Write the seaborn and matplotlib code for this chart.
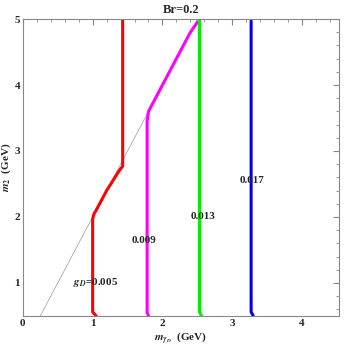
import numpy as np
import pandas as pd
import matplotlib
matplotlib.use("Agg")
import matplotlib.pyplot as plt
import seaborn as sns
from matplotlib.ticker import MultipleLocator

# contour curves (m_gammaD, m2)
red_x = [1.05, 1.00, 1.00, 1.02, 1.05, 1.10, 1.15, 1.20, 1.26, 1.32, 1.38, 1.43, 1.43]
red_y = [0.50, 0.56, 1.97, 2.05, 2.10, 2.20, 2.30, 2.40, 2.50, 2.60, 2.70, 2.77, 4.97]
mag_x = [1.80, 1.78, 1.78, 1.80, 1.90, 2.00, 2.10, 2.20, 2.30, 2.40, 2.50, 2.53]
mag_y = [0.50, 0.55, 3.45, 3.60, 3.80, 4.00, 4.20, 4.40, 4.60, 4.80, 4.95, 4.97]
grn_x = [2.56, 2.53, 2.53]
grn_y = [0.50, 0.56, 4.97]
blu_x = [3.30, 3.27, 3.27]
blu_y = [0.50, 0.56, 4.97]
diag_x = [0.25, 2.5]
diag_y = [0.50, 5.0]

labels = ["$g_D$=0.005", "0.009", "0.013", "0.017"]
label_x = [1.04, 1.73, 2.58, 3.28]
label_y = [1.00, 1.64, 2.00, 2.55]
colors = ["#ff0000", "#ff00ff", "#00ee00", "#0000ee"]

sns.set_style("white")
plt.rcParams["font.family"] = ["Liberation Serif", "DejaVu Serif"]
plt.rcParams["mathtext.fontset"] = "stix"
plt.rcParams["font.weight"] = "bold"

fig = plt.figure(figsize=(3.46, 3.46), dpi=100)
ax = fig.add_axes([0.066, 0.087, 0.914, 0.858])

sns.lineplot(x=diag_x, y=diag_y, color="#999999", lw=0.5, sort=False,
             estimator=None, errorbar=None, ax=ax)
curves = [(red_x, red_y), (mag_x, mag_y), (grn_x, grn_y), (blu_x, blu_y)]
for (cx, cy), c in zip(curves, colors):
    df = pd.DataFrame({"x": cx, "y": cy})
    sns.lineplot(data=df, x="x", y="y", color=c, lw=2.2, sort=False,
                 estimator=None, errorbar=None, ax=ax)

for t, lx, ly in zip(labels, label_x, label_y):
    ax.text(lx, ly, t, ha="center", va="center", fontsize=8, fontweight="bold")

ax.set_xlim(0, 4.53)
ax.set_ylim(0.5, 5)
ax.xaxis.set_major_locator(MultipleLocator(1))
ax.xaxis.set_minor_locator(MultipleLocator(0.2))
ax.set_yticks([1, 2, 3, 4, 5])
ax.yaxis.set_minor_locator(MultipleLocator(0.2))
ax.tick_params(which="both", direction="in", top=True, right=True, color="#888888",
               labelsize=8, pad=2)
ax.tick_params(which="major", length=4)
ax.tick_params(which="minor", length=2)
for lab in ax.get_xticklabels() + ax.get_yticklabels():
    lab.set_fontweight("bold")
for s in ax.spines.values():
    s.set_color("#888888")
    s.set_linewidth(0.8)

ax.set_xlabel(r"$m_{\gamma_D}$  (GeV)", fontsize=8, fontweight="bold", labelpad=2)
ax.set_ylabel(r"$m_2$  (GeV)", fontsize=8, fontweight="bold", labelpad=1)
ax.set_title("Br=0.2", fontsize=9, fontweight="bold", pad=4)

fig.savefig("out.png", dpi=100)
